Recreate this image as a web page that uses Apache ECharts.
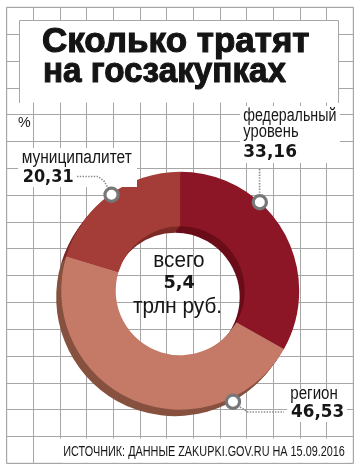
<!DOCTYPE html>
<html><head><meta charset="utf-8">
<script src="https://cdn.jsdelivr.net/npm/echarts@6/dist/echarts.min.js"></script>
<style>html,body{margin:0;padding:0;background:#fff}#c{width:362px;height:474px}</style>
</head><body><div id="c"></div>
<script>
// ---- data ----
const titleLines = ['Сколько тратят', 'на госзакупках'];
const unitLabel = '%';
const categories = ['федеральный уровень', 'регион', 'муниципалитет'];
const values = [33.16, 46.53, 20.31];
const totalCaption = 'всего';
const totalValue = '5,4';
const totalUnit = 'трлн руб.';
const sourceText = 'ИСТОЧНИК: ДАННЫЕ ZAKUPKI.GOV.RU НА 15.09.2016';

// ---- styles ----
const colors = ['#8C1626', '#C57A68', '#A43D38'];
const shadowColors = ['#6B0C19', '#87513F', '#7D2B27'];
const C = [180.2, 290.7];
const R = [64.5, 119];
const SH = [-5, 6.5];
const gridColor = '#a6a6a6';
const REG = '"Liberation Sans", Arial, sans-serif';
const NUM = '"DejaVu Sans", sans-serif';

const fmt = v => v.toFixed(2).replace('.', ',');

function txt(str, x, baseline, size, o) {
  o = o || {};
  const st = {
    text: str, x: 0, y: 0, fontFamily: o.ff || REG, fontSize: size,
    fontWeight: o.fw || 'normal', fill: o.fill || '#161616',
    align: o.align || 'left', verticalAlign: 'middle'
  };
  if (o.stroke) { st.stroke = o.fill || '#161616'; st.lineWidth = o.stroke; }
  return { type: 'text', x: x, y: baseline - 0.35 * size, scaleX: o.sx || 1, z: o.z || 20, silent: true, style: st };
}
function rect(x, y, w, h, z) {
  return { type: 'rect', shape: { x: x, y: y, width: w, height: h }, style: { fill: '#fff' }, z: z || 15, silent: true };
}
function dots(points) {
  return { type: 'polyline', shape: { points: points }, style: { stroke: '#8a8a8a', lineWidth: 1.6, lineDash: [1.4, 1.4], fill: null }, z: 17, silent: true };
}
function marker(angleDeg, r) {
  const a = angleDeg * Math.PI / 180;
  return { type: 'circle', shape: { cx: C[0] + r * Math.sin(a), cy: C[1] - r * Math.cos(a), r: 6.6 },
    style: { fill: '#fff', stroke: '#777777', lineWidth: 3.2 }, z: 18, silent: true };
}

const pieData = (cols) => categories.map((n, i) => ({ name: n, value: values[i], itemStyle: { color: cols[i] } }));

const series = [];
const layers = [1, 0.75, 0.5, 0.25];
layers.forEach(f => {
  series.push({
    type: 'pie', silent: true, animation: false, z: 2,
    center: [C[0] + SH[0] * f, C[1] + SH[1] * f], radius: R,
    startAngle: 90, clockwise: true, label: { show: false }, labelLine: { show: false },
    data: pieData(shadowColors)
  });
});
series.push({
  type: 'pie', silent: true, animation: false, z: 3,
  center: C, radius: R, startAngle: 90, clockwise: true,
  label: { show: false }, labelLine: { show: false },
  data: pieData(colors)
});

const fedWords = categories[0].split(' ');
const graphic = [
  // title box
  rect(19.5, 20.5, 319, 82, 5),
  { type: 'polyline', shape: { points: [[19.5, 103], [19.5, 20.5], [338.5, 20.5], [338.5, 103]] },
    style: { stroke: gridColor, lineWidth: 1, fill: null }, z: 6, silent: true },
  txt(titleLines[0], 42, 55, 35, { fw: 'bold', sx: 1.0, fill: '#141414', stroke: 1.1 }),
  txt(titleLines[1], 43, 85, 35, { fw: 'bold', sx: 0.95, fill: '#141414', stroke: 1.1 }),
  txt(unitLabel, 18, 128, 15, { sx: 0.95 }),
  // label backgrounds
  rect(240, 106, 100, 57),
  rect(18, 148, 119, 39),
  rect(287, 389, 60, 33),
  rect(60, 438.5, 288, 24),
  // federal
  txt(fedWords[0], 243.3, 122.3, 18, { sx: 0.79 }),
  txt(fedWords[1], 243.3, 138.5, 18, { sx: 0.82 }),
  txt(fmt(values[0]), 243.3, 158.5, 17.5, { ff: NUM, fw: 'bold', sx: 0.97 }),
  // municipal
  txt(categories[2], 21.7, 164.3, 18, { sx: 0.86 }),
  txt(fmt(values[2]), 22.7, 183.3, 17.5, { ff: NUM, fw: 'bold', sx: 0.92 }),
  // region
  txt(categories[1], 290.3, 400.7, 18, { sx: 0.84 }),
  txt(fmt(values[1]), 291, 418.3, 17.5, { ff: NUM, fw: 'bold', sx: 0.96 }),
  // center
  txt(totalCaption, 178.9, 268.3, 22.5, { align: 'center', sx: 0.92 }),
  txt(totalValue, 179.2, 290, 18.5, { ff: NUM, fw: 'bold', align: 'center', sx: 0.96 }),
  txt(totalUnit, 177.5, 315, 22.5, { align: 'center', sx: 0.92 }),
  // source
  txt(sourceText, 63.3, 456.7, 14, { sx: 0.775 }),
  // leader lines and markers
  dots([[77, 176.5], [98, 176.5], [104, 181], [108, 188]]),
  dots([[259.6, 169], [259.6, 194]]),
  dots([[240, 407], [248, 412], [284, 412]]),
  marker(42, 119),
  marker(324.4, 118),
  marker(154.6, 123)
];

const chart = echarts.init(document.getElementById('c'), null, { renderer: 'canvas' });
chart.setOption({
  animation: false,
  backgroundColor: '#fff',
  grid: { left: 6.7, right: 8.7, top: 7.3, bottom: 10.7, show: true, borderColor: gridColor, borderWidth: 1, containLabel: false },
  xAxis: { type: 'value', min: 0, max: 13, interval: 1, axisLine: { show: false }, axisTick: { show: false }, axisLabel: { show: false },
    splitLine: { show: true, lineStyle: { color: gridColor, width: 1 } } },
  yAxis: { type: 'value', min: 0, max: 17, interval: 1, axisLine: { show: false }, axisTick: { show: false }, axisLabel: { show: false },
    splitLine: { show: true, lineStyle: { color: gridColor, width: 1 } } },
  series: series,
  graphic: graphic
});
</script></body></html>
